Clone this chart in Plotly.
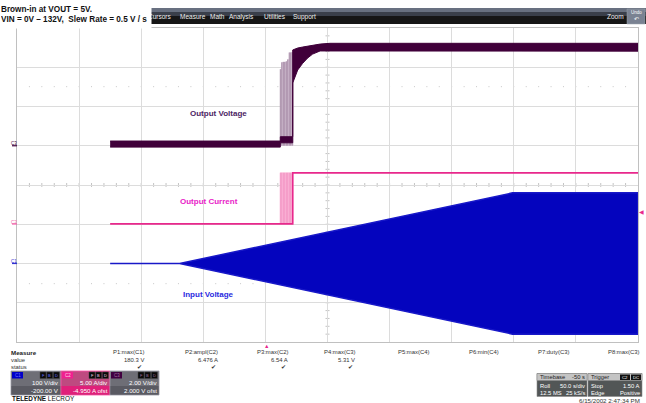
import plotly.graph_objects as go

# ---------------- data ----------------
# time axis: 50 s/div, 10 div -> 0..500 s
c1_time = [75, 131, 399, 500]            # s
c1_peak = [0, 0, 180, 180]               # V, envelope of AC input (±peak)

c2_time = [75, 222, 222, 500]            # s
c2_amps = [0, 0, 6.5, 6.5]               # A, output current
c2_burst_time = [212, 213.2, 214.4, 215.6, 216.8, 218, 219.2, 220.4, 221.6]
c2_burst_peak = [6.52, 6.52, 6.52, 6.52, 6.52, 6.52, 6.52, 6.52, 6.52]

c3_time = [75, 212, 212, 222, 222, 226, 230, 234, 238, 244, 252, 500]
c3_low = [-0.07, -0.07, 0.15, 0.15, 3.2, 3.86, 4.2, 4.47, 4.67, 4.83, 4.82, 4.82]
c3_high = [0.24, 0.24, 0.46, 0.46, 4.88, 4.98, 5.03, 5.08, 5.1, 5.18, 5.22, 5.22]
c3_burst_time = [212, 213.2, 214.4, 215.6, 216.8, 218, 219.2, 220.4, 221.6]
c3_burst_peak = [3.9, 4.25, 4.27, 4.27, 4.3, 4.4, 4.75, 4.75, 4.77]

measure_names = ["P1:max(C1)", "P2:ampl(C2)", "P3:max(C2)", "P4:max(C3)",
                 "P5:max(C4)", "P6:min(C4)", "P7:duty(C3)", "P8:max(C3)"]
measure_values = ["180.3 V", "6.476 A", "6.54 A", "5.31 V", "", "", "", ""]
measure_status = [True, True, True, True, False, False, False, False]
menu_items = ["Cursors", "Measure", "Math", "Analysis", "Utilities", "Support"]

# ---------------- styling ----------------
W, H = 646, 403
L, R, T, B = 17, 638, 28, 342
BLUE = "#0404BE"
PINK = "#E8288C"
PURPLE = "#40003A"
FONT = "Liberation Sans, Arial, sans-serif"


def PX(x):
    return (x - L) / (R - L)


def PY(y):
    return (B - y) / (B - T)


fig = go.Figure()

# C1 input voltage envelope
fig.add_trace(go.Scatter(
    x=c1_time + c1_time[::-1],
    y=c1_peak + [-v for v in c1_peak[::-1]],
    fill="toself", fillcolor=BLUE, mode="lines",
    line=dict(color="#1818C8", width=1.5), yaxis="y", hoverinfo="skip"))

# C2 bursts + line
fig.add_trace(go.Scatter(
    x=c2_burst_time + [c2_burst_time[-1] + 1.0],
    y=c2_burst_peak + [c2_burst_peak[-1]],
    line_shape="hv", fill="tozeroy", fillcolor="#FFC4E0", mode="lines",
    line=dict(color="#FFC4E0", width=0.5), yaxis="y2", hoverinfo="skip"))
sx, sy = [], []
for t, p in zip(c2_burst_time, c2_burst_peak):
    sx += [t, t, None]
    sy += [0, p, None]
fig.add_trace(go.Scatter(x=sx, y=sy, mode="lines",
                         line=dict(color="#F292C2", width=1), yaxis="y2", hoverinfo="skip"))
fig.add_trace(go.Scatter(x=c2_time, y=c2_amps, mode="lines",
                         line=dict(color=PINK, width=1.6), yaxis="y2", hoverinfo="skip"))

# C3 bursts + band
fig.add_trace(go.Scatter(
    x=c3_burst_time + [c3_burst_time[-1] + 1.0],
    y=c3_burst_peak + [c3_burst_peak[-1]],
    line_shape="hv", fill="tozeroy", fillcolor="#DCCCDC", mode="lines",
    line=dict(color="#DCCCDC", width=0.5), yaxis="y3", hoverinfo="skip"))
sx, sy = [], []
for t, p in zip(c3_burst_time, c3_burst_peak):
    sx += [t, t, None]
    sy += [0, p, None]
fig.add_trace(go.Scatter(x=sx, y=sy, mode="lines",
                         line=dict(color="#A68AA6", width=1), yaxis="y3", hoverinfo="skip"))
fig.add_trace(go.Scatter(
    x=c3_time + c3_time[::-1], y=c3_high + c3_low[::-1],
    fill="toself", fillcolor=PURPLE, mode="lines",
    line=dict(color=PURPLE, width=1), yaxis="y3", hoverinfo="skip"))

shapes = []
annotations = []


def rect(x0, y0, x1, y1, fill, line=None, lw=0):
    shapes.append(dict(type="rect", xref="paper", yref="paper",
                       x0=PX(x0), x1=PX(x1), y0=PY(y0), y1=PY(y1),
                       fillcolor=fill, line=dict(color=line or fill, width=lw), layer="above"))


def seg(x0, y0, x1, y1, color, w=1, layer="below"):
    shapes.append(dict(type="line", xref="paper", yref="paper",
                       x0=PX(x0), x1=PX(x1), y0=PY(y0), y1=PY(y1),
                       line=dict(color=color, width=w), layer=layer))


def txt(x, y, s, size=6.3, color="#333333", anchor="left", bold=False, bg=None, **kw):
    if bold:
        s = "<b>" + s + "</b>"
    d = dict(xref="paper", yref="paper", x=PX(x), y=PY(y), text=s, showarrow=False,
             xanchor=anchor, yanchor="middle", font=dict(size=size, color=color, family=FONT),
             borderpad=0)
    if bg:
        d["bgcolor"] = bg
    d.update(kw)
    annotations.append(d)


# grid tick decorations
div_x = (R - L) / 10
div_y = (B - T) / 8
cy = T + 4 * div_y
cx = L + 5 * div_x
for i in range(1, 50):
    x = L + i * div_x / 5
    seg(x, cy - 2, x, cy + 2, "#C4C4C4")
    seg(x, 86, x, 87.2, "#D0D0D0")
    seg(x, 283, x, 284.2, "#D0D0D0")
for i in range(1, 40):
    y = T + i * div_y / 5
    seg(cx - 2, y, cx + 2, y, "#C4C4C4")

# menu bar
rect(148, 8, 646, 12, "#687080")
rect(148, 12, 646, 16, "#3A3F4A")
rect(148, 16, 646, 24, "#161616")
rect(627, 9, 645, 24, "#7A8292", "#9AA0AA", 0.5)
menu_x = [147, 179, 209, 228, 263, 292]
for mx, m in zip(menu_x, menu_items):
    txt(mx, 16.5, m, size=6.5, color="#F0F0F0")
txt(625, 17, "Zoom", size=6.5, color="#F0F0F0", anchor="right")
txt(636, 13, "Undo", size=4.5, color="#FFFFFF", anchor="center")
txt(636, 19.5, "↶", size=6, color="#FFFFFF", anchor="center")

# title box (drawn after menu so it covers it)
annotations.append(dict(
    xref="paper", yref="paper", x=PX(0), y=PY(0), xanchor="left", yanchor="top",
    width=150, height=27, align="left", valign="middle", showarrow=False,
    bgcolor="#FFFFFF", borderpad=0,
    text="<b>Brown-in at VOUT = 5V.</b><br><b>VIN = 0V – 132V,  Slew Rate = 0.5 V / s</b>",
    font=dict(size=8.2, color="#111111", family=FONT)))

# channel trace labels
txt(218, 113, "Output Voltage", size=8, color="#4B2463", anchor="center", bold=True)
txt(209, 201, "Output Current", size=8, color="#E822C8", anchor="center", bold=True)
txt(208, 294, "Input Voltage", size=8, color="#2A2AE0", anchor="center", bold=True)

# channel markers on left edge
for yy, lab, col in [(145.75, "C3", PURPLE), (224, "C2", "#F060A8"), (263.5, "C1", "#3030D0")]:
    txt(14, yy - 2, lab, size=4.5, color=col, anchor="center")
    seg(12, yy, 17, yy, col, 1.2, "above")

# trigger markers
txt(641, 212, "◀", size=6, color=PINK, anchor="center")
txt(266, 345.5, "▲", size=5.5, color=PINK, anchor="center")

# measure table
txt(10, 352, "Measure", size=6.2, color="#222222", bold=True)
txt(10, 359.5, "value", size=5.9, color="#333333")
txt(10, 367, "status", size=5.9, color="#333333")
col_right = [145, 219, 289, 356, 430, 500, 570, 640]
for xr, n, v, st in zip(col_right, measure_names, measure_values, measure_status):
    txt(xr, 352, n, size=5.9, anchor="right")
    if v:
        txt(xr, 359.5, v, size=5.9, anchor="right")
    if st:
        txt(xr - 2, 367, "✔", size=5.5, color="#333333", anchor="right")

# channel descriptor boxes
boxes = [(11, 61, "#6E6E76", "#5A5A62", "#0000C8", "#7070FF", "C1", "100 V/div", "-200.00 V", "#9A9AA6"),
         (61, 110, "#BE4A80", "#E0207A", "#F02090", "#FFD0E8", "C2", "5.00 A/div", "-4.950 A ofst", "#FF50A8"),
         (110, 159, "#6E6E76", "#5A5A62", "#400040", "#A070A0", "C3", "2.00 V/div", "2.000 V ofst", "#9A9AA6")]
for x0, x1, ctop, cbot, clab, ctxt, lab, l1, l2, border in boxes:
    rect(x0, 371, x1, 395, ctop, border, 0.8)
    rect(x0 + 0.5, 386, x1 - 0.5, 394.5, cbot)
    rect(x0 + 1, 372, x0 + 12, 378.5, clab)
    txt(x0 + 6.5, 375.3, lab, size=4.5, color=ctxt, anchor="center")
    for k, letter in enumerate(["F", "B", "D"]):
        bx = x1 - 21 + k * 6.7
        rect(bx, 372, bx + 6, 378.5, "#0A0A0A", "#444444", 0.5)
        txt(bx + 3, 375.3, letter, size=4, color=ctxt, anchor="center")
    txt(x1 - 1, 382, l1, size=6.2, color="#FFFFFF", anchor="right")
    txt(x1 - 1, 390, l2, size=6.2, color="#FFFFFF", anchor="right")

# timebase / trigger boxes
rect(537, 373.5, 587, 396.5, "#525656", "#8A8A8A", 0.6)
rect(537, 373.5, 587, 380.5, "#C4C4C4", "#8A8A8A", 0.6)
txt(539, 377, "Timebase", size=5.8, color="#222222")
txt(586, 377, "-50 s", size=5.8, color="#222222", anchor="right")
txt(539, 386, "Roll", size=5.8, color="#FFFFFF")
txt(586, 386, "50.0 s/div", size=5.8, color="#FFFFFF", anchor="right")
txt(539, 393, "12.5 MS", size=5.8, color="#FFFFFF")
txt(586, 393, "25 kS/s", size=5.8, color="#FFFFFF", anchor="right")

rect(588, 373.5, 642, 396.5, "#525656", "#8A8A8A", 0.6)
rect(588, 373.5, 642, 380.5, "#C4C4C4", "#8A8A8A", 0.6)
txt(590, 377, "Trigger", size=5.8, color="#222222")
rect(620, 374.5, 630, 380, "#111111")
rect(631, 374.5, 641, 380, "#111111")
txt(625, 377.2, "C2", size=4.3, color="#FFFFFF", anchor="center")
txt(636, 377.2, "DC", size=4.3, color="#FFFFFF", anchor="center")
txt(590, 386, "Stop", size=5.8, color="#FFFFFF")
txt(641, 386, "1.50 A", size=5.8, color="#FFFFFF", anchor="right")
txt(590, 393, "Edge", size=5.8, color="#FFFFFF")
txt(641, 393, "Positive", size=5.8, color="#FFFFFF", anchor="right")

txt(641, 400.3, "6/15/2002 2:47:34 PM", size=6.2, color="#333333", anchor="right")
txt(11, 398.8, "<b>TELEDYNE</b> LECROY", size=6.4, color="#111111")

axis_common = dict(showticklabels=False, ticks="", zeroline=False, fixedrange=True)
fig.update_layout(
    width=W, height=H,
    margin=dict(l=L, r=W - R, t=T, b=H - B, pad=0),
    paper_bgcolor="#FFFFFF", plot_bgcolor="#FFFFFF",
    showlegend=False,
    font=dict(family=FONT),
    xaxis=dict(range=[0, 500], dtick=50, tick0=0, showgrid=True, gridcolor="#DCDCDC",
               gridwidth=1, showline=True, mirror=True, linecolor="#C0C0C0", linewidth=1,
               **axis_common),
    yaxis=dict(range=[-200, 600], dtick=100, tick0=-200, showgrid=True, gridcolor="#DCDCDC",
               gridwidth=1, showline=True, mirror=True, linecolor="#C0C0C0", linewidth=1,
               **axis_common),
    yaxis2=dict(range=[-15.05, 24.95], overlaying="y", showgrid=False, visible=False, **axis_common),
    yaxis3=dict(range=[-10, 6], overlaying="y", showgrid=False, visible=False, **axis_common),
    shapes=shapes,
    annotations=annotations,
)

fig.write_html("out.html", config={"displayModeBar": False},
               post_script="document.body.style.margin='0';document.body.style.padding='0';")
